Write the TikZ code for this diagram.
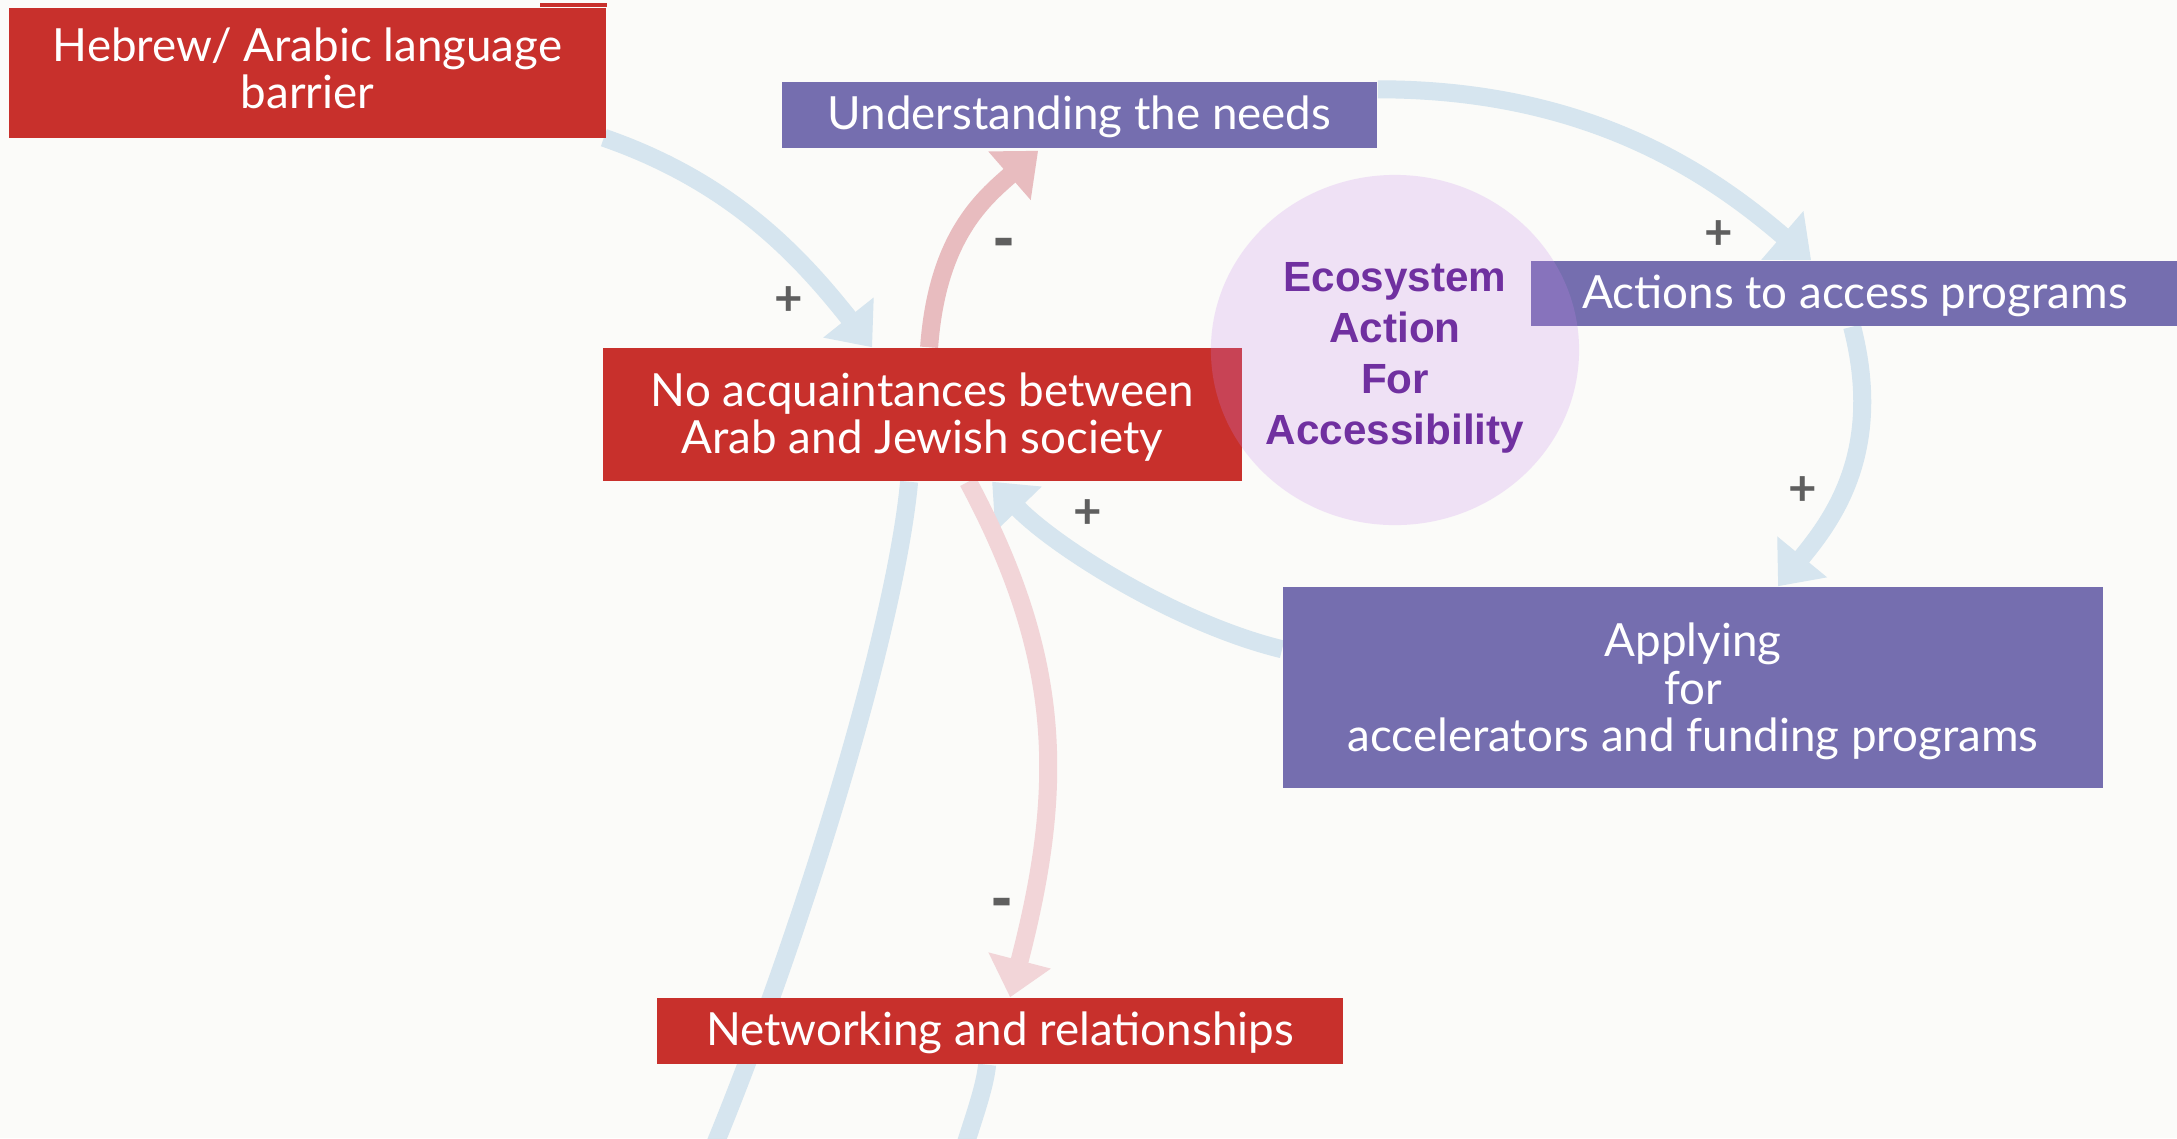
\documentclass[tikz,border=0pt]{standalone}
\usepackage{fontspec}
\setmainfont{Lato}
\newfontfamily\ecofont{Liberation Sans}
\usetikzlibrary{arrows.meta,shapes.geometric,calc}
\definecolor{paper}{HTML}{FBFBF9}
\definecolor{boxred}{HTML}{C8302C}
\definecolor{boxpurple}{HTML}{756EAF}
\definecolor{linkblue}{HTML}{D6E5EF}
\definecolor{linkpinkdark}{HTML}{E8BCBF}
\definecolor{linkpink}{HTML}{F2D5D8}
\definecolor{ecofill}{RGB}{200,135,235}
\definecolor{ecotext}{HTML}{7030A0}
\definecolor{signgray}{HTML}{5F5F5F}
\newcommand\liftline[1]{\rule{0pt}{#1}}
\pgfdeclarelayer{bg}
\pgfsetlayers{bg,main}

\begin{document}
\begin{tikzpicture}[x=0.01cm,y=-0.01cm,
  box/.style={rectangle,inner sep=0,text=white,align=center,font=\fontsize{13}{13.4}\selectfont,
    execute at begin node={\rule{0pt}{11.1pt}},execute at end node={\rule[-2.8pt]{0pt}{0pt}}},
  redbox/.style={box,fill=boxred},
  purplebox/.style={box,fill=boxpurple},
  link/.style={line width=0.18cm,-{Triangle[width=0.62cm,length=0.38cm]}},
  loose/.style={line width=0.18cm},
  plus/.style={inner sep=0,text=signgray,font=\fontsize{14}{14}\selectfont\bfseries},
  minus/.style={inner sep=0,text=signgray,font=\ecofont\bfseries\fontsize{18}{18}\selectfont}]
\useasboundingbox (0,0) rectangle (2177,1138);
\node[redbox,minimum width=5.97cm,minimum height=1.30cm] (hebrew) at (307.5,73) {Hebrew/ Arabic language\\barrier};
\fill[boxred] ($(hebrew.north east)+(-67,0)$) rectangle ($(hebrew.north east)+(0,-4)$);
\node[purplebox,minimum width=5.95cm,minimum height=0.66cm] (understand) at (1079.5,115) {Understanding the needs};
\node[redbox,minimum width=6.39cm,minimum height=1.33cm] (noacq) at (922.5,414.5) {\liftline{11.7pt}No acquaintances between\\Arab and Jewish society};
\node[purplebox,minimum width=6.48cm,minimum height=0.65cm] (actions) at (1855,293.5) {Actions to access programs};
\node[purplebox,minimum width=8.20cm,minimum height=2.01cm] (apply) at (1693,687.5) {\liftline{12.2pt}Applying\\for\\accelerators and funding programs};
\node[redbox,minimum width=6.86cm,minimum height=0.66cm] (network) at (1000,1031) {Networking and relationships};
\node[ellipse,inner sep=0,minimum width=3.68cm,minimum height=3.50cm,fill=ecofill,fill opacity=0.22,text opacity=1,text=ecotext,align=center,
  font=\ecofont\bfseries\fontsize{12}{14.5}\selectfont] (eco) at (1395,350) {\liftline{12.6pt}Ecosystem\\Action\\For\\Accessibility};
\coordinate (offa) at (700,1180);
\coordinate (offb) at (955,1180);
\begin{pgfonlayer}{bg}
\fill[paper] (0,0) rectangle (2177,1138);
\draw[link,linkblue] ($(hebrew.south east)+(-3,-1)$) .. controls +(130,45) and +(-70,-88) .. ($(noacq.north west)+(270,0)$);
\draw[link,linkpinkdark] ($(noacq.north west)+(327,0)$) .. controls +(8,-110) and +(-55,48) .. ($(understand.south west)+(257,2)$);
\draw[link,linkblue] ($(understand.north east)+(0,8)$) .. controls +(200,0) and +(-110,-95) .. ($(actions.north west)+(281,0)$);
\draw[link,linkblue] ($(actions.south west)+(322,0)$) .. controls +(32,124) and +(55,-67) .. ($(apply.north west)+(496,0)$);
\draw[link,linkblue] ($(apply.north west)+(0,63)$) .. controls +(-103,-25) and +(65,67) .. ($(noacq.south west)+(390,0)$);
\draw[link,linkpink] ($(noacq.south west)+(366,0)$) .. controls +(96,179) and +(54,-208) .. ($(network.north west)+(354,0)$);
\draw[loose,linkblue] ($(noacq.south west)+(307,0)$) .. controls +(-15,159) and +(90,-210) .. (offa);
\draw[loose,linkblue] ($(network.south west)+(331,0)$) .. controls +(-3,30) and +(10,-40) .. (offb);
\end{pgfonlayer}
\node[plus] (s1) at (788.5,301) {+};
\node[minus] (s2) at (1004,248) {-};
\node[plus] (s3) at (1718.5,235) {+};
\node[plus] (s4) at (1802.5,491) {+};
\node[plus] (s5) at (1087.5,514) {+};
\node[minus] (s6) at (1002,908) {-};
\end{tikzpicture}
\end{document}
